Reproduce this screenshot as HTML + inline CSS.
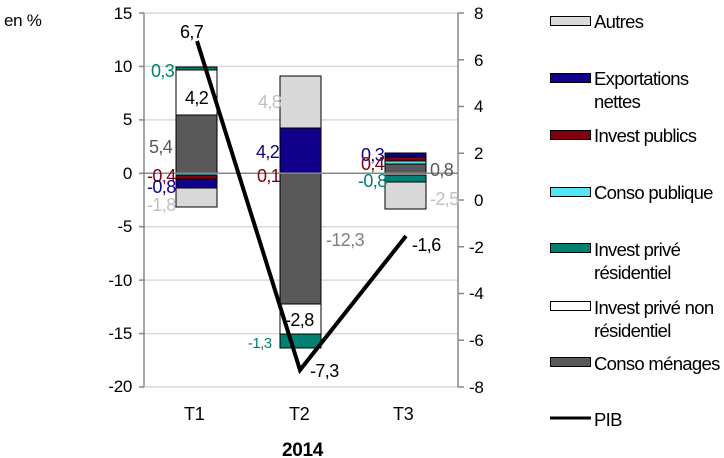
<!DOCTYPE html><html><head><style>body{margin:0;background:#fff}svg{display:block;font-family:"Liberation Sans",Arial,sans-serif}</style></head><body>
<svg width="724" height="458" xmlns="http://www.w3.org/2000/svg">
<g stroke="#d9d9d9" stroke-width="1.5">
<line x1="143" x2="458" y1="13" y2="13"/><line x1="143" x2="458" y1="66.4" y2="66.4"/><line x1="143" x2="458" y1="119.9" y2="119.9"/><line x1="143" x2="458" y1="226.7" y2="226.7"/><line x1="143" x2="458" y1="280.1" y2="280.1"/><line x1="143" x2="458" y1="333.6" y2="333.6"/><line x1="143" x2="458" y1="387" y2="387"/>
</g>
<g stroke="#888" stroke-width="1.5" fill="none">
<line x1="144" y1="13" x2="144" y2="387"/><line x1="458" y1="13" x2="458" y2="387"/>
<line x1="139" x2="144" y1="13" y2="13"/><line x1="139" x2="144" y1="66.4" y2="66.4"/><line x1="139" x2="144" y1="119.9" y2="119.9"/><line x1="139" x2="144" y1="173.3" y2="173.3"/><line x1="139" x2="144" y1="226.7" y2="226.7"/><line x1="139" x2="144" y1="280.1" y2="280.1"/><line x1="139" x2="144" y1="333.6" y2="333.6"/><line x1="139" x2="144" y1="387" y2="387"/>
<line x1="458" x2="464" y1="13" y2="13"/><line x1="458" x2="464" y1="59.75" y2="59.75"/><line x1="458" x2="464" y1="106.5" y2="106.5"/><line x1="458" x2="464" y1="153.25" y2="153.25"/><line x1="458" x2="464" y1="200" y2="200"/><line x1="458" x2="464" y1="246.75" y2="246.75"/><line x1="458" x2="464" y1="293.5" y2="293.5"/><line x1="458" x2="464" y1="340.25" y2="340.25"/><line x1="458" x2="464" y1="387" y2="387"/>
</g>
<g stroke="#000" stroke-width="1">
<rect x="176" y="115" width="41" height="58" fill="#595959"/>
<rect x="176" y="70" width="41" height="45" fill="#fff"/>
<rect x="176" y="67" width="41" height="3" fill="#008070"/>
<rect x="176" y="173" width="41" height="2" fill="#55e6f5" stroke="none"/>
<rect x="176" y="175" width="41" height="4" fill="#800010"/>
<rect x="176" y="179" width="41" height="9" fill="#10008a"/>
<rect x="176" y="188" width="41" height="19" fill="#d9d9d9"/>
<rect x="280" y="128" width="41" height="45" fill="#10008a"/>
<rect x="280" y="76" width="41" height="52" fill="#d9d9d9"/>
<rect x="280" y="173" width="41" height="131" fill="#595959"/>
<rect x="280" y="304" width="41" height="30" fill="#fff"/>
<rect x="280" y="334" width="41" height="14" fill="#008070"/>
<rect x="385" y="164" width="41" height="9" fill="#595959"/>
<rect x="385" y="161" width="41" height="3" fill="#55e6f5"/>
<rect x="385" y="157" width="41" height="4" fill="#800010"/>
<rect x="385" y="153" width="41" height="4" fill="#10008a"/>
<rect x="385" y="175" width="41" height="7" fill="#008070"/>
<rect x="385" y="182" width="41" height="27" fill="#d9d9d9"/>
</g>
<line x1="144" x2="458" y1="173.3" y2="173.3" stroke="#888" stroke-width="1.5"/>
<polyline points="197,41 300,370 406,236" fill="none" stroke="#000" stroke-width="4"/>
<g font-size="17" fill="#000" text-anchor="end" letter-spacing="-0.3">
<text x="132" y="19">15</text><text x="132" y="72">10</text><text x="132" y="125">5</text><text x="132" y="179">0</text><text x="132" y="232">-5</text><text x="132" y="286">-10</text><text x="132" y="339">-15</text><text x="132" y="392">-20</text>
</g>
<g font-size="17" fill="#000" letter-spacing="-0.3">
<text x="474" y="19">8</text><text x="474" y="66">6</text><text x="474" y="112">4</text><text x="474" y="159">2</text><text x="474" y="206">0</text><text x="469" y="253">-2</text><text x="469" y="299">-4</text><text x="469" y="346">-6</text><text x="469" y="393">-8</text>
<text x="4" y="26">en %</text>
<text x="184" y="420" font-size="18">T1</text><text x="289" y="420" font-size="18">T2</text><text x="393" y="420" font-size="18">T3</text>
<text x="282" y="456" font-size="19" font-weight="bold">2014</text>
</g>
<g font-size="18" letter-spacing="-0.6">
<text x="180" y="38" fill="#000">6,7</text>
<text x="151" y="77" fill="#008070">0,3</text>
<text x="185" y="104" fill="#000">4,2</text>
<text x="149" y="153" fill="#595959">5,4</text>
<text x="147" y="182" fill="#800010">-0,4</text>
<text x="147" y="193" fill="#10008a">-0,8</text>
<text x="147" y="211" fill="#c0c0c0">-1,8</text>
<text x="258" y="108" fill="#c0c0c0">4,8</text>
<text x="256" y="158" fill="#10008a">4,2</text>
<text x="257" y="182" fill="#800010">0,1</text>
<text x="326" y="246" fill="#808080">-12,3</text>
<text x="285" y="326" fill="#000">-2,8</text>
<text x="248" y="348" fill="#008070" font-size="15">-1,3</text>
<text x="310" y="377" fill="#000">-7,3</text>
<text x="412" y="251" fill="#000">-1,6</text>
<text x="361" y="161" fill="#10008a">0,3</text>
<text x="361" y="170" fill="#800010">0,4</text>
<text x="358" y="187" fill="#008070">-0,8</text>
<text x="430" y="176" fill="#595959">0,8</text>
<text x="430" y="205" fill="#c0c0c0">-2,5</text>
</g>
<g stroke="#000" stroke-width="1">
<rect x="550.5" y="16.5" width="40" height="9" fill="#d9d9d9"/>
<rect x="550.5" y="73.5" width="40" height="9" fill="#10008a"/>
<rect x="550.5" y="130.5" width="40" height="9" fill="#800010"/>
<rect x="550.5" y="187.5" width="40" height="9" fill="#55e6f5"/>
<rect x="550.5" y="243.5" width="40" height="9" fill="#008070"/>
<rect x="550.5" y="301.5" width="40" height="9" fill="#fff"/>
<rect x="550.5" y="357.5" width="40" height="9" fill="#595959"/>
</g>
<line x1="550" x2="591" y1="418" y2="418" stroke="#000" stroke-width="3"/>
<g font-size="18.5" letter-spacing="-0.7" fill="#000">
<text x="594" y="28">Autres</text>
<text x="594" y="85">Exportations</text><text x="594" y="108">nettes</text>
<text x="594" y="142">Invest publics</text>
<text x="594" y="199">Conso publique</text>
<text x="594" y="256">Invest privé</text><text x="594" y="279">résidentiel</text>
<text x="594" y="314">Invest privé non</text><text x="594" y="337">résidentiel</text>
<text x="594" y="370">Conso ménages</text>
<text x="594" y="426">PIB</text>
</g>
</svg></body></html>
